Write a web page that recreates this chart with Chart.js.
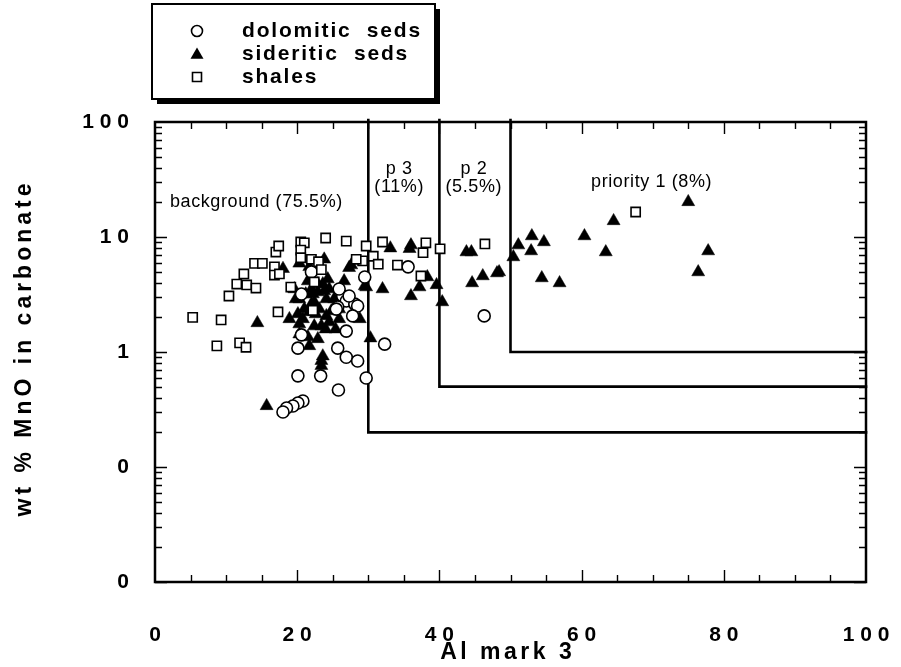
<!DOCTYPE html>
<html>
<head>
<meta charset="utf-8">
<script src="https://cdn.jsdelivr.net/npm/chart.js@4/dist/chart.umd.min.js"></script>
<style>
  html, body { margin: 0; padding: 0; background: #fff; }
  #wrap { width: 901px; height: 667px; position: relative; }
</style>
</head>
<body>
<div id="wrap"><canvas id="c" width="901" height="667"></canvas></div>
<script>
// Al mark 3 (x) against wt % MnO in carbonate (y, log scale)
const dolomiticX = [20.6, 26.4, 26.9, 25.7, 28.1, 28.5, 27.8, 26.9, 25.5, 29.5, 22.0, 20.6, 20.1, 25.7, 26.9, 28.5,
                    20.1, 23.3, 29.7, 25.8, 32.3, 35.6, 46.3, 20.8, 20.1, 19.4, 18.5, 18.0, 25.9, 27.3];
const dolomiticY = [3.19, 3.07, 2.78, 2.46, 2.61, 2.51, 2.06, 1.52, 2.36, 4.49, 4.96, 1.41, 1.08, 1.08, 0.90, 0.835,
                    0.62, 0.62, 0.594, 0.467, 1.17, 5.5, 2.06, 0.375, 0.36, 0.339, 0.326, 0.301, 3.53, 3.07];

const sideriticX = [75.0, 64.5, 60.4, 63.4, 77.8, 76.4, 53.0, 54.7, 51.1, 52.9, 50.4, 54.4, 56.9, 48.4,
                    33.1, 36.0, 35.8, 43.8, 44.5, 44.6, 46.1, 48.1, 32.0, 36.0, 37.2, 38.3, 39.6, 40.4,
                    29.7, 26.6, 27.3, 30.3, 23.4, 23.4, 14.4, 15.7, 18.0, 20.3, 21.7, 23.8, 23.6, 23.8,
                    24.1, 21.0, 21.7, 20.8, 23.1, 24.1, 22.4, 23.4, 24.5, 25.9, 28.8, 21.5, 23.6, 21.7,
                    27.6, 29.5, 20.1, 22.4, 22.9, 20.3, 22.9, 24.8, 25.4, 22.0, 24.3, 18.9, 22.2, 20.3,
                    19.8, 21.2, 22.9, 24.5, 25.2, 20.3, 22.6, 24.0, 22.0, 25.9, 19.6, 21.5];
const sideriticY = [20.2, 13.8, 10.2, 7.4, 7.55, 4.96, 10.2, 9.05, 8.5, 7.55, 6.7, 4.4, 3.98, 4.96,
                    8.0, 8.5, 7.9, 7.4, 7.4, 3.98, 4.58, 4.86, 3.53, 3.07, 3.67, 4.49, 3.83, 2.72,
                    3.67, 4.14, 5.4, 1.32, 0.84, 0.76, 1.79, 0.34, 5.3, 5.9, 5.5, 6.4, 3.9, 3.39,
                    2.89, 2.36, 2.23, 1.94, 2.36, 2.06, 1.68, 1.68, 1.82, 1.94, 1.94, 1.35, 0.92, 1.13,
                    5.7, 3.75, 2.14, 2.72, 3.32, 1.43, 1.30, 2.27, 1.58, 3.53, 4.31, 1.94, 3.19, 2.89,
                    2.89, 3.19, 3.9, 3.53, 2.89, 1.75, 2.14, 1.58, 2.61, 2.36, 3.53, 4.14];

const shalesX = [5.3, 9.3, 8.7, 11.9, 12.8, 10.4, 11.5, 12.9, 14.2, 12.5, 14.0, 15.1, 17.0, 17.4, 16.8, 16.8,
                 17.5, 17.3, 19.1, 20.5, 21.0, 20.5, 20.5, 24.0, 26.9, 29.7, 32.0, 22.0, 23.0, 23.4, 22.4,
                 22.2, 29.2, 28.3, 30.7, 31.4, 34.1, 38.1, 37.7, 40.1, 46.4, 37.4, 67.6];
const shalesY = [2.0, 1.9, 1.13, 1.2, 1.1, 3.07, 3.9, 3.83, 3.6, 4.77, 5.9, 5.9, 7.4, 8.35, 5.5, 4.67,
                 4.77, 2.23, 3.67, 9.05, 8.9, 7.7, 6.6, 9.8, 9.2, 8.35, 9.05, 6.4, 6.1, 5.2, 4.06,
                 2.3, 6.2, 6.4, 6.8, 5.8, 5.7, 8.9, 7.3, 7.9, 8.7, 4.58, 16.5];

// Priority fields: lower-left corner of each field (Al mark 3, wt % MnO)
const priorityX = [30, 40, 50];
const priorityY = [0.2, 0.5, 1];
const fieldLabels = ['background (75.5%)', 'p 3', '(11%)', 'p 2', '(5.5%)', 'priority 1 (8%)'];

// Axis ticks
const xTickValues = [0, 20, 40, 60, 80, 100];
const xTickLabels = ['0', '2 0', '4 0', '6 0', '8 0', '1 0 0'];
const yTickValues = [0.01, 0.1, 1, 10, 100];
const yTickLabels = ['0', '0', '1', '1 0', '1 0 0'];

const seriesNames = ['dolomitic seds', 'sideritic seds', 'shales'];
const xTitle = 'Al mark 3';
const yTitle = 'wt % MnO in carbonate';

const FONT = '"Liberation Sans", Arial, Helvetica, sans-serif';
const pts = (xs, ys) => xs.map((v, i) => ({ x: v, y: ys[i] }));

function spacedText(ctx, text, x, y, spacing, align) {
  ctx.letterSpacing = spacing + 'px';
  const w = ctx.measureText(text).width - spacing;
  let sx = x;
  if (align === 'center') sx = x - w / 2;
  else if (align === 'right') sx = x - w;
  ctx.textAlign = 'left';
  ctx.fillText(text, sx, y);
  ctx.letterSpacing = '0px';
}

function drawMarker(ctx, kind, x, y) {
  ctx.save();
  ctx.strokeStyle = '#000';
  ctx.lineWidth = 1.6;
  if (kind === 0) {
    ctx.fillStyle = '#fff';
    ctx.beginPath(); ctx.arc(x, y, 5.5, 0, Math.PI * 2); ctx.fill(); ctx.stroke();
  } else if (kind === 1) {
    const r = 7.5;
    ctx.fillStyle = '#000';
    ctx.beginPath();
    ctx.moveTo(x, y - r);
    ctx.lineTo(x + r * Math.sin(Math.PI * 2 / 3), y - r * Math.cos(Math.PI * 2 / 3));
    ctx.lineTo(x - r * Math.sin(Math.PI * 2 / 3), y - r * Math.cos(Math.PI * 2 / 3));
    ctx.closePath(); ctx.fill();
  } else {
    ctx.fillStyle = '#fff';
    ctx.beginPath(); ctx.rect(x - 4.5, y - 4.5, 9, 9); ctx.fill(); ctx.stroke();
  }
  ctx.restore();
}

const decorations = {
  id: 'decorations',
  beforeDatasetsDraw(chart) {
    const { ctx, chartArea: a, scales: { x, y } } = chart;
    ctx.save();
    ctx.strokeStyle = '#000';
    ctx.lineWidth = 2.6;
    ctx.lineCap = 'square';
    for (let i = 0; i < priorityX.length; i++) {
      const px = x.getPixelForValue(priorityX[i]);
      const py = y.getPixelForValue(priorityY[i]);
      ctx.beginPath();
      ctx.moveTo(px, a.top - 2);
      ctx.lineTo(px, py);
      ctx.lineTo(a.right, py);
      ctx.stroke();
    }
    ctx.restore();
  },
  afterDatasetsDraw(chart) {
    const { ctx, chartArea: a, scales: { x, y } } = chart;
    ctx.save();
    ctx.strokeStyle = '#000';
    ctx.fillStyle = '#000';

    // plot frame
    ctx.lineWidth = 2.5;
    ctx.strokeRect(a.left, a.top, a.right - a.left, a.bottom - a.top);

    // inward ticks
    ctx.lineWidth = 1.4;
    ctx.beginPath();
    for (let d = 0.01; d < 100; d *= 10) {
      for (let m = 1; m <= 9; m++) {
        const py = Math.round(y.getPixelForValue(d * m)) + 0.5;
        const len = m === 1 ? 12 : 7;
        ctx.moveTo(a.left, py); ctx.lineTo(a.left + len, py);
        ctx.moveTo(a.right, py); ctx.lineTo(a.right - len, py);
      }
    }
    for (let v = 5; v < 100; v += 5) {
      const px = Math.round(x.getPixelForValue(v)) + 0.5;
      const len = v % 20 === 0 ? 12 : 7;
      ctx.moveTo(px, a.bottom); ctx.lineTo(px, a.bottom - len);
      ctx.moveTo(px, a.top); ctx.lineTo(px, a.top + len);
    }
    ctx.stroke();

    // axis titles
    ctx.font = 'bold 23px ' + FONT;
    ctx.textBaseline = 'middle';
    spacedText(ctx, xTitle, 506, 653, 3.5, 'center');
    ctx.save();
    ctx.translate(25, 350);
    ctx.rotate(-Math.PI / 2);
    spacedText(ctx, yTitle, 0, 0, 4, 'center');
    ctx.restore();

    // field labels
    ctx.font = '18px ' + FONT;
    ctx.textBaseline = 'middle';
    spacedText(ctx, fieldLabels[0], x.getPixelForValue(2.1), y.getPixelForValue(20.2), 0.6, 'left');
    spacedText(ctx, fieldLabels[1], x.getPixelForValue(34.3), y.getPixelForValue(39), 0.6, 'center');
    spacedText(ctx, fieldLabels[2], x.getPixelForValue(34.3), y.getPixelForValue(27.2), 0.6, 'center');
    spacedText(ctx, fieldLabels[3], x.getPixelForValue(44.8), y.getPixelForValue(39), 0.6, 'center');
    spacedText(ctx, fieldLabels[4], x.getPixelForValue(44.8), y.getPixelForValue(27.2), 0.6, 'center');
    spacedText(ctx, fieldLabels[5], x.getPixelForValue(69.8), y.getPixelForValue(30.1), 0.6, 'center');

    // legend box with drop shadow
    ctx.fillStyle = '#000';
    ctx.fillRect(157, 9, 283, 95);
    ctx.fillStyle = '#fff';
    ctx.fillRect(152, 4, 283, 95);
    ctx.lineWidth = 2;
    ctx.strokeRect(152, 4, 283, 95);
    const rows = [31, 54, 77];
    ctx.font = 'bold 21px ' + FONT;
    ctx.textBaseline = 'middle';
    for (let i = 0; i < seriesNames.length; i++) {
      drawMarker(ctx, i, 197, rows[i] + (i === 1 ? 1 : 0));
      ctx.fillStyle = '#000';
      spacedText(ctx, seriesNames[i].replace(' ', '  '), 242, rows[i], 1.8, 'left');
    }
    ctx.restore();
  }
};

const tickFont = { family: FONT, weight: 'bold', size: 21 };

new Chart(document.getElementById('c'), {
  type: 'scatter',
  data: {
    datasets: [
      { label: seriesNames[2], data: pts(shalesX, shalesY), pointStyle: 'rect', pointRadius: 6.5,
        pointHoverRadius: 6.5, backgroundColor: '#fff', borderColor: '#000', borderWidth: 1.6 },
      { label: seriesNames[0], data: pts(dolomiticX, dolomiticY), pointStyle: 'circle', pointRadius: 6,
        pointHoverRadius: 6, backgroundColor: '#fff', borderColor: '#000', borderWidth: 1.6 },
      { label: seriesNames[1], data: pts(sideriticX, sideriticY), pointStyle: 'triangle', pointRadius: 7.5,
        pointHoverRadius: 7.5, backgroundColor: '#000', borderColor: '#000', borderWidth: 0.5 }
    ]
  },
  options: {
    responsive: false,
    devicePixelRatio: 1,
    animation: false,
    events: [],
    layout: { padding: { left: 0, top: 122, right: 35, bottom: 0 } },
    plugins: { legend: { display: false }, tooltip: { enabled: false }, title: { display: false } },
    scales: {
      x: {
        type: 'linear', min: 0, max: 100,
        grid: { display: false }, border: { display: false },
        afterBuildTicks: s => { s.ticks = xTickValues.map(v => ({ value: v })); },
        afterFit: s => { s.height = 85; s.paddingLeft = 0; s.paddingRight = 0; },
        ticks: { autoSkip: false, maxRotation: 0, padding: 33, color: '#000', font: tickFont,
                 callback: (v, i) => xTickLabels[i] }
      },
      y: {
        type: 'logarithmic', min: 0.01, max: 100,
        grid: { display: false }, border: { display: false },
        afterBuildTicks: s => { s.ticks = yTickValues.map(v => ({ value: v })); },
        afterFit: s => { s.width = 155; s.paddingTop = 0; s.paddingBottom = 0; },
        ticks: { autoSkip: false, padding: 18, color: '#000', font: tickFont,
                 callback: (v, i) => yTickLabels[i] }
      }
    }
  },
  plugins: [decorations]
});
</script>
</body>
</html>
